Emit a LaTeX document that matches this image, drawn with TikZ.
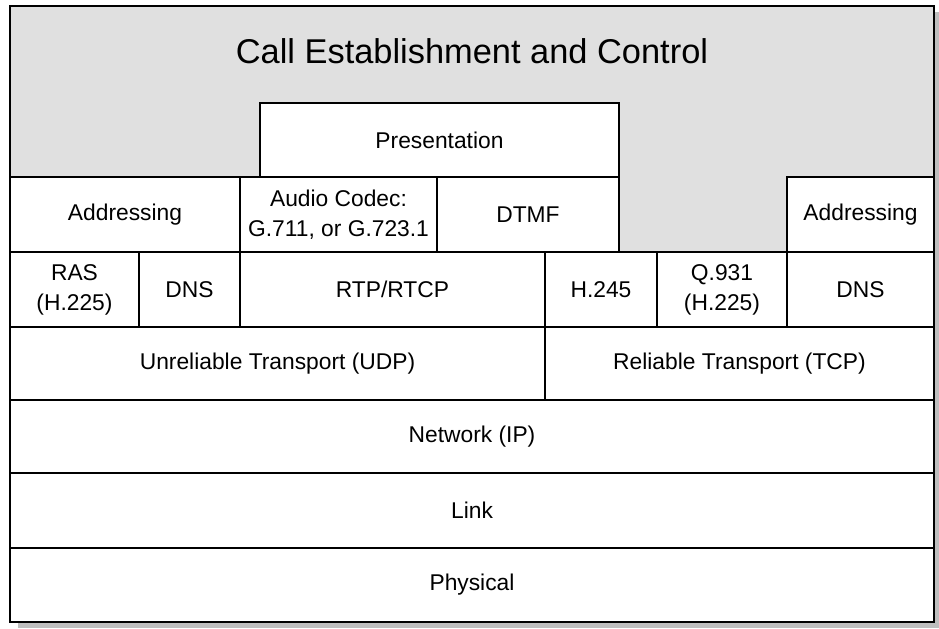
\documentclass[tikz,border=0pt]{standalone}
\usepackage{fontspec}
\setmainfont{Liberation Sans}
\definecolor{ctrlgray}{RGB}{224,224,224}
\definecolor{shadowgray}{RGB}{190,190,190}

\begin{document}
\begin{tikzpicture}[x=0.5pt, y=-0.5pt, line width=1pt,
    every node/.style={font=\fontsize{11.4}{15}\selectfont, align=center},
    layer/.style={draw, fill=white}]
    \useasboundingbox (0,0) rectangle (939,628);
    % shadow and outer frame
    \fill[shadowgray] (18,12) rectangle (939,628);
    \draw[fill=ctrlgray] (10,6) rectangle (934,622);
    \node[font=\fontsize{17.2}{20}\selectfont] (title) at (472,51) {Call Establishment and Control};
    % application layer
    \draw[layer] (260,103) rectangle node (pres) {Presentation} (619,177);
    \draw[layer] (10,177) rectangle node (addrL) {Addressing} (240,252);
    \draw[layer] (240,177) rectangle node (codec) {Audio Codec:\\G.711, or G.723.1} (437,252);
    \draw[layer] (437,177) rectangle node (dtmf) {DTMF} (619,252);
    \draw[layer] (787,177) rectangle node (addrR) {Addressing} (934,252);
    % signalling protocols
    \draw[layer] (10,252) rectangle node (ras) {RAS\\(H.225)} (139,327);
    \draw[layer] (139,252) rectangle node (dnsL) {DNS} (240,327);
    \draw[layer] (240,252) rectangle node (rtp) {RTP/RTCP} (545,327);
    \draw[layer] (545,252) rectangle node (h245) {H.245} (657,327);
    \draw[layer] (657,252) rectangle node (q931) {Q.931\\(H.225)} (787,327);
    \draw[layer] (787,252) rectangle node (dnsR) {DNS} (934,327);
    % transport and below
    \draw[layer] (10,327) rectangle node (udp) {Unreliable Transport (UDP)} (545,400);
    \draw[layer] (545,327) rectangle node (tcp) {Reliable Transport (TCP)} (934,400);
    \draw[layer] (10,400) rectangle node (net) {Network (IP)} (934,473);
    \draw[layer] (10,473) rectangle node (link) {Link} (934,548);
    \draw[layer] (10,548) rectangle node (phys) {Physical} (934,622);
\end{tikzpicture}
\end{document}
